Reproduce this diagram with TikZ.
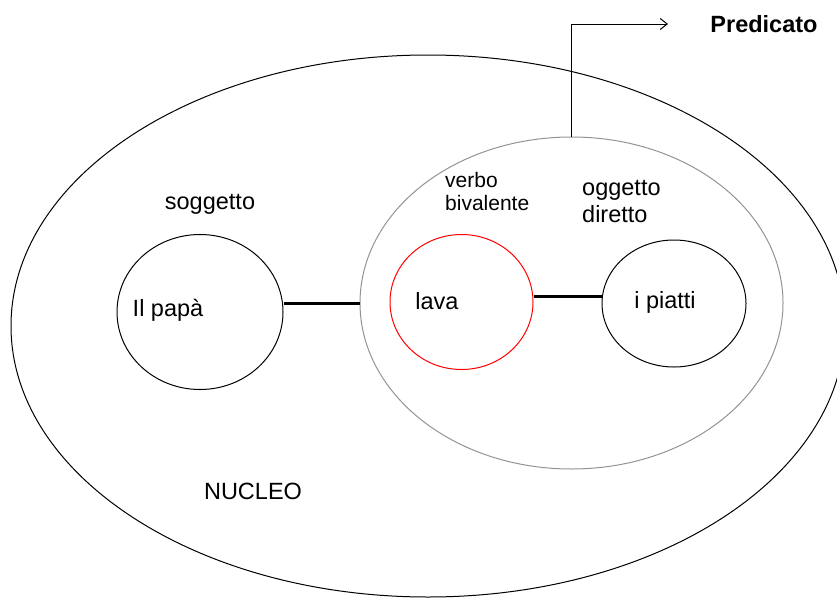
\documentclass[tikz,border=0pt]{standalone}
\usepackage{fontspec}
\setmainfont{Liberation Sans}
\usetikzlibrary{shapes.geometric,arrows.meta}
\tikzset{
  blob/.style={ellipse,draw,inner sep=0pt,line width=1pt},
  lbl/.style={inner sep=0pt,font=\fontsize{23.5}{27}\selectfont},
  small/.style={inner sep=0pt,align=left,font=\fontsize{21}{23}\selectfont},
  link/.style={line width=3pt},
}
\begin{document}
\begin{tikzpicture}[x=1pt,y=-1pt]
\useasboundingbox (0,0) rectangle (837,597);
\node[blob,minimum width=834pt,minimum height=542pt] (nucleo) at (428,326) {};
\node[blob,draw=gray!85,minimum width=423pt,minimum height=332pt] (pred) at (571.5,303) {};
\node[blob,minimum width=166pt,minimum height=155pt] (papa) at (200,312) {};
\node[blob,draw=red,minimum width=143pt,minimum height=135pt] (lava) at (461.5,302) {};
\node[blob,minimum width=144pt,minimum height=127pt] (piatti) at (674,303.5) {};

\node[lbl] (tpapa) at (168,310) {Il papà};
\node[lbl] (tlava) at (437,301) {lava};
\node[lbl] (tpiatti) at (665,302) {i piatti};
\node[lbl] (tsogg) at (210,204) {soggetto};
\node[lbl] (tnucleo) at (253,491) {NUCLEO};
\node[small,anchor=west] (tverbo) at (445,191) {verbo\\bivalente};
\node[lbl,anchor=west,align=left,font=\fontsize{23.5}{27}\selectfont] (togg) at (582,202) {oggetto\\diretto};
\node[lbl,font=\bfseries\fontsize{23.5}{27}\selectfont] (tpred) at (764,24) {Predicato};

\draw[link] (pred.west) -- (pred.west -| papa.east);
\draw[link] ([yshift=6pt]lava.east) -- ([yshift=6pt]lava.east -| piatti.west);

\coordinate (arrend) at (668,24);
\draw[line width=1pt,-{Straight Barb[length=7pt,width=11pt]}] (pred.north) |- (arrend);
\end{tikzpicture}
\end{document}
